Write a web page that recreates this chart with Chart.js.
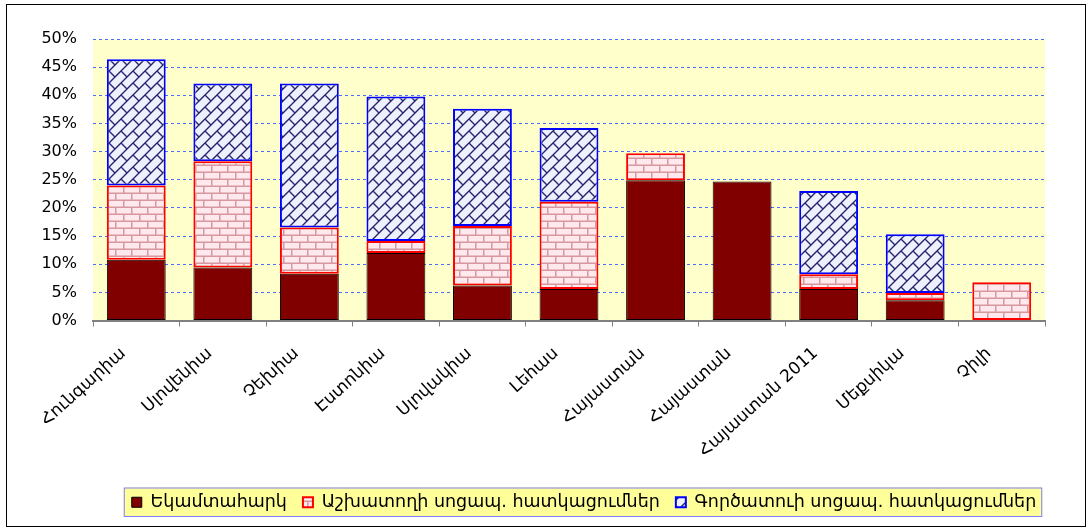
<!DOCTYPE html>
<html>
<head>
<meta charset="utf-8">
<script src="https://cdn.jsdelivr.net/npm/chart.js@4.4.1/dist/chart.umd.min.js"></script>
<style>
  html, body { margin: 0; padding: 0; background: #fff; }
  #box {
    position: absolute; left: 6px; top: 4px;
    width: 1080px; height: 523px;
    border: 1px solid #000; box-sizing: border-box;
  }
</style>
</head>
<body>
<div id="box"><canvas id="myChart"></canvas></div>
<script>
// categories and values (percent of labour cost)
const countries = ['Հունգարիա', 'Սլովենիա', 'Չեխիա', 'Էստոնիա', 'Սլովակիա', 'Լեհաս',
  'Հայաստան', 'Հայաստան', 'Հայաստան 2011', 'Մեքսիկա', 'Չիլի'];
const incomeTax = [10.8, 9.4, 8.3, 12.0, 6.2, 5.6, 24.9, 24.7, 5.6, 3.6, null];
const employeeSoc = [13.2, 18.9, 8.2, 2.1, 10.6, 15.5, 4.8, null, 2.6, 1.3, 6.8];
const employerSoc = [22.4, 13.8, 25.6, 25.7, 20.8, 13.1, null, null, 14.8, 10.4, null];
const seriesNames = ['Եկամտահարկ', 'Աշխատողի սոցապ. հատկացումներ', 'Գործատուի սոցապ. հատկացումներ'];

const ctx = document.getElementById('myChart');
const c2d = ctx.getContext('2d');

function brickPattern() {
  const t = document.createElement('canvas');
  t.width = 16; t.height = 14;
  const g = t.getContext('2d');
  g.fillStyle = '#fde9ee';
  g.fillRect(0, 0, 16, 14);
  g.fillStyle = '#d8989f';
  g.fillRect(0, 5.5, 16, 1.5);
  g.fillRect(0, 12.5, 16, 1.5);
  g.fillRect(4, 0, 1.5, 6);
  g.fillRect(12, 7, 1.5, 6);
  return c2d.createPattern(t, 'repeat');
}

function diagBrickPattern() {
  const t = document.createElement('canvas');
  t.width = 12; t.height = 12;
  const g = t.getContext('2d');
  g.fillStyle = '#eef1fd';
  g.fillRect(0, 0, 12, 12);
  g.strokeStyle = '#24246e';
  g.lineWidth = 1.4;
  g.beginPath();
  g.moveTo(-2, 14); g.lineTo(14, -2);
  g.moveTo(-2, 2); g.lineTo(2, -2);
  g.moveTo(10, 14); g.lineTo(14, 10);
  g.moveTo(6, 6); g.lineTo(12, 12);
  g.stroke();
  return c2d.createPattern(t, 'repeat');
}

const plotBg = {
  id: 'plotBg',
  beforeDraw(chart) {
    const a = chart.chartArea;
    const g = chart.ctx;
    const lg = chart.legend;
    // move the legend so it sits where the original one is
    const dx = 577 - (lg.left + lg.right) / 2;
    lg.left += dx; lg.right += dx;
    g.save();
    g.fillStyle = '#ffffcc';
    g.fillRect(a.left, a.top, a.right - a.left, a.bottom - a.top);
    const hb = lg.legendHitBoxes;
    if (hb && hb.length) {
      let l = Infinity, r = -Infinity, t = Infinity, b = -Infinity;
      hb.forEach(h => {
        h.left += dx;
        l = Math.min(l, h.left); r = Math.max(r, h.left + h.width);
        t = Math.min(t, h.top); b = Math.max(b, h.top + h.height);
      });
      g.fillStyle = '#ffff99';
      g.strokeStyle = '#7f7fff';
      g.lineWidth = 1;
      g.fillRect(l - 8, t - 6, r - l + 14, b - t + 12);
      g.strokeRect(l - 7.5, t - 5.5, r - l + 13, b - t + 11);
    }
    g.restore();
  }
};

const data = {
  labels: countries,
  datasets: [{
    label: seriesNames[0],
    data: incomeTax,
    backgroundColor: '#800000',
    borderColor: '#000000',
    borderWidth: 1
  }, {
    label: seriesNames[1],
    data: employeeSoc,
    backgroundColor: brickPattern(),
    borderColor: '#ff0000',
    borderWidth: 2
  }, {
    label: seriesNames[2],
    data: employerSoc,
    backgroundColor: diagBrickPattern(),
    borderColor: '#0000ff',
    borderWidth: 2
  }]
};

const config = {
  type: 'bar',
  data: data,
  plugins: [plotBg],
  options: {
    responsive: true,
    maintainAspectRatio: false,
    animation: false,
    layout: { padding: { left: 0, right: 40, top: 34, bottom: 5 } },
    datasets: {
      bar: { barPercentage: 0.68, categoryPercentage: 1, borderSkipped: false }
    },
    plugins: {
      tooltip: { enabled: false },
      legend: {
        position: 'bottom',
        labels: {
          color: '#000',
          boxWidth: 10,
          boxHeight: 10,
          padding: 16,
          font: { family: 'DejaVu Sans', size: 17.5 }
        }
      }
    },
    scales: {
      x: {
        stacked: true,
        afterFit: (s) => { s.height = 157; },
        border: { display: true, color: '#808080', width: 2 },
        grid: { offset: true, drawOnChartArea: false, drawTicks: true, tickLength: 6, color: '#808080' },
        ticks: {
          color: '#000',
          minRotation: 42, maxRotation: 42,
          labelOffset: -13,
          padding: 17,
          font: { family: 'DejaVu Sans', size: 17 }
        }
      },
      y: {
        stacked: true,
        min: 0, max: 50,
        afterFit: (s) => { s.width = 86; },
        border: { display: false, dash: [3, 3] },
        grid: { color: '#4a6cff', drawTicks: false, lineWidth: 1 },
        ticks: {
          stepSize: 5,
          color: '#000',
          padding: 16,
          font: { family: 'DejaVu Sans', size: 16 },
          callback: (v) => v + '%'
        }
      }
    }
  }
};

var myChart = new Chart(ctx, config);
</script>
</body>
</html>
